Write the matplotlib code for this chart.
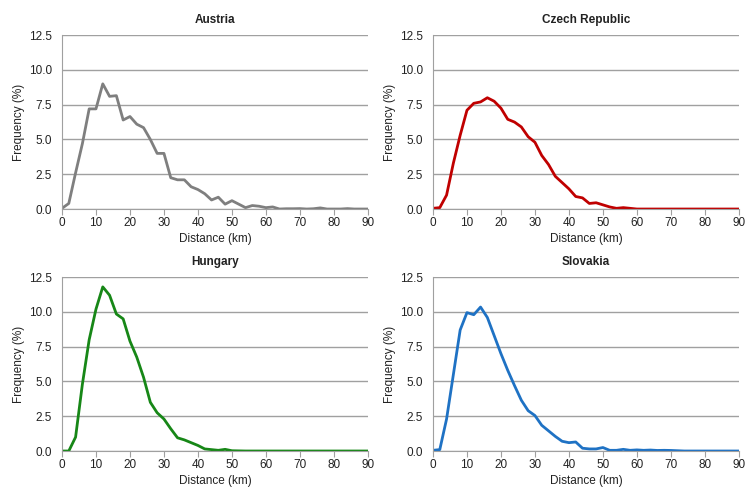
import numpy as np
import matplotlib.pyplot as plt

plt.rcParams['font.family'] = ['Liberation Sans', 'DejaVu Sans']

# distance bins (km), every 2 km
distance = np.arange(0, 91, 2)

austria = [0.05, 0.4, 2.6, 4.7, 7.2, 7.2, 9.0, 8.1, 8.15, 6.4,
           6.65, 6.1, 5.85, 5.0, 4.0, 4.0, 2.25, 2.1, 2.1, 1.6,
           1.4, 1.1, 0.65, 0.85, 0.35, 0.6, 0.35, 0.1, 0.25, 0.2,
           0.1, 0.15, 0.0, 0.02, 0.02, 0.03, 0.0, 0.02, 0.08, 0.0,
           0.0, 0.0, 0.03, 0.0, 0.0, 0.0]
czech = [0.05, 0.1, 1.0, 3.3, 5.3, 7.1, 7.6, 7.7, 8.0, 7.75,
         7.25, 6.45, 6.25, 5.9, 5.2, 4.8, 3.85, 3.2, 2.35, 1.9,
         1.45, 0.9, 0.8, 0.4, 0.45, 0.3, 0.15, 0.05, 0.1, 0.05,
         0.0, 0.0, 0.0, 0.0, 0.0, 0.0, 0.0, 0.0, 0.0, 0.0,
         0.0, 0.0, 0.0, 0.0, 0.0, 0.0]
hungary = [0.0, 0.0, 1.0, 4.8, 8.0, 10.2, 11.8, 11.2, 9.85, 9.5,
           7.9, 6.75, 5.3, 3.5, 2.75, 2.3, 1.6, 0.95, 0.8, 0.6,
           0.4, 0.15, 0.1, 0.05, 0.12, 0.02, 0.01, 0.0, 0.0, 0.0,
           0.0, 0.0, 0.0, 0.0, 0.0, 0.0, 0.0, 0.0, 0.0, 0.0,
           0.0, 0.0, 0.0, 0.0, 0.0, 0.0]
slovakia = [0.05, 0.1, 2.3, 5.5, 8.7, 9.95, 9.8, 10.35, 9.6, 8.3,
            7.0, 5.8, 4.7, 3.65, 2.9, 2.55, 1.85, 1.45, 1.05, 0.7,
            0.6, 0.65, 0.2, 0.15, 0.15, 0.25, 0.05, 0.05, 0.12, 0.05,
            0.08, 0.05, 0.07, 0.04, 0.05, 0.04, 0.02, 0.0, 0.0, 0.0,
            0.0, 0.0, 0.0, 0.0, 0.0, 0.0]

countries = ['Austria', 'Czech Republic', 'Hungary', 'Slovakia']
series = [austria, czech, hungary, slovakia]
colors = ['#7f7f7f', '#c00000', '#178717', '#1f72c4']

fig = plt.figure(figsize=(7.46, 4.87), dpi=100)
boxes = [(0.0831, 0.5708), (0.5804, 0.5708), (0.0831, 0.0739), (0.5804, 0.0739)]
grey = '#a0a0a0'
txt = '#222222'

for name, vals, col, (x0, y0) in zip(countries, series, colors, boxes):
    ax = fig.add_axes([x0, y0, 0.410, 0.357])
    ax.plot(distance, vals, color=col, linewidth=2, solid_joinstyle='round')
    ax.set_xlim(0, 90)
    ax.set_ylim(0, 12.5)
    ax.set_xticks(np.arange(0, 91, 10))
    ax.set_yticks(np.arange(0, 12.6, 2.5))
    ax.set_yticklabels(['%.1f' % v for v in np.arange(0, 12.6, 2.5)])
    ax.yaxis.grid(True, color=grey, linewidth=1)
    ax.set_axisbelow(True)
    for s in ['top', 'right']:
        ax.spines[s].set_visible(False)
    ax.spines['left'].set_color(grey)
    ax.spines['bottom'].set_color(grey)
    ax.tick_params(axis='y', length=0, labelsize=8.5, colors=txt, pad=7)
    ax.tick_params(axis='x', length=4, color=grey, labelsize=8.5, labelcolor=txt, pad=2)
    ax.set_xlabel('Distance (km)', fontsize=8.5, color=txt, labelpad=2.5)
    ax.set_ylabel('Frequency (%)', fontsize=8.5, color=txt, labelpad=3)
    ax.set_title(name, fontsize=8.5, fontweight='bold', color=txt, pad=9)

fig.savefig('out.png', dpi=100)
